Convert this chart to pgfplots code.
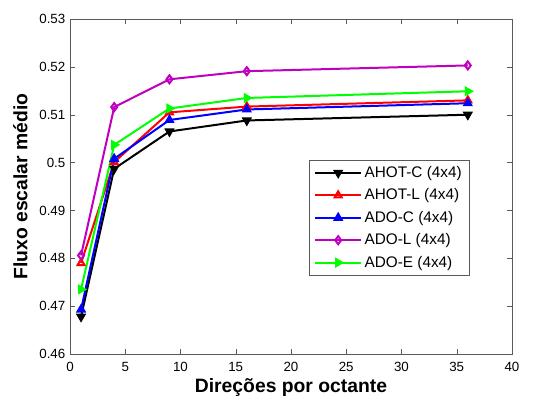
\documentclass[border=0pt]{standalone}
\usepackage{fontspec}
\setmainfont{Liberation Sans}
\usepackage{pgfplots}
\pgfplotsset{compat=1.18}
\definecolor{mymag}{rgb}{0.75,0,0.75}
\definecolor{axgray}{rgb}{0.35,0.35,0.35}
\begin{document}
\begin{tikzpicture}
\useasboundingbox (-52.5pt,-35.25pt) rectangle (357pt,265.5pt);
\begin{axis}[
  scale only axis,
  width=331.5pt, height=251.25pt,
  xmin=0, xmax=40, ymin=0.46, ymax=0.53,
  xtick={0,5,...,40},
  ytick={0.46,0.47,0.48,0.49,0.50,0.51,0.52,0.53},
  yticklabels={0.46,0.47,0.48,0.49,0.5,0.51,0.52,0.53},
  tick align=inside,
  major tick length=4pt,
  axis line style={axgray},
  tick style={axgray},
  /pgf/number format/assume math mode=true,
  ticklabel style={font=\fontsize{10}{12}\selectfont},
  xticklabel style={yshift=-2.5pt},
  xlabel={\textbf{Direções por octante}},
  ylabel={\textbf{Fluxo escalar médio}},
  label style={font=\fontsize{14.5}{16}\selectfont},
  xlabel style={at={(axis description cs:0.5,-0.1)},anchor=center},
  ylabel style={at={(axis description cs:-0.112,0.5)},anchor=center},
  legend style={at={(rel axis cs:0.905,0.579)}, anchor=north east,
    draw=axgray, font=\fontsize{11.5}{13}\selectfont,
    inner xsep=4pt, inner ysep=2.5pt, row sep=3pt},
  legend cell align=left,
  legend image code/.code={\draw[mark repeat=2,mark phase=2] plot coordinates {(0cm,0cm) (0.6cm,0cm) (1.2cm,0cm)};},
  every axis plot/.append style={line width=1.5pt},
]
\addplot[black, mark=triangle*, mark size=3pt, mark options={rotate=180}]
  coordinates {(1,0.4678) (4,0.4987) (9,0.5065) (16,0.5088) (36,0.5100)};
\addlegendentry{AHOT-C (4x4)}
\addplot[red, mark=triangle, mark size=3pt]
  coordinates {(1,0.4790) (4,0.5001) (9,0.5105) (16,0.5117) (36,0.5130)};
\addlegendentry{AHOT-L (4x4)}
\addplot[blue, mark=triangle*, mark size=3pt]
  coordinates {(1,0.4693) (4,0.5008) (9,0.5089) (16,0.5111) (36,0.5124)};
\addlegendentry{ADO-C (4x4)}
\addplot[mymag, mark=diamond, mark size=3pt]
  coordinates {(1,0.4806) (4,0.5116) (9,0.5174) (16,0.5191) (36,0.5203)};
\addlegendentry{ADO-L (4x4)}
\addplot[green, mark=triangle*, mark size=3pt, mark options={rotate=-90}]
  coordinates {(1,0.4735) (4,0.5037) (9,0.5113) (16,0.5135) (36,0.5149)};
\addlegendentry{ADO-E (4x4)}
\end{axis}
\end{tikzpicture}
\end{document}
